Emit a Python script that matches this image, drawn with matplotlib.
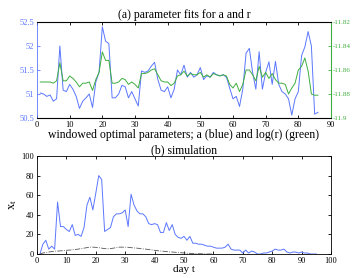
import numpy as np
import matplotlib
matplotlib.use("Agg")
import matplotlib.pyplot as plt

plt.rcParams['font.family'] = ['Liberation Serif', 'DejaVu Serif']
plt.rcParams['mathtext.fontset'] = 'custom'
plt.rcParams['mathtext.rm'] = 'Liberation Serif'
plt.rcParams['mathtext.it'] = 'Liberation Serif'
plt.rcParams['axes.unicode_minus'] = False

# ---- (a) windowed fits ----
fit_days = np.arange(1, 87)
a_fit = [51.02, 51.00, 50.95, 50.98, 50.85, 50.90, 52.00, 51.08, 51.05, 51.20,
         51.10, 50.95, 50.70, 50.85, 50.92, 51.00, 50.72, 51.25, 51.45, 52.40,
         52.10, 52.05, 50.92, 50.92, 51.00, 51.18, 51.15, 50.92, 51.05, 50.90,
         50.75, 51.48, 51.45, 51.48, 51.58, 51.66, 51.30, 51.08, 51.05, 51.15,
         50.92, 51.10, 51.50, 51.40, 51.60, 51.35, 51.45, 51.35, 51.40, 51.55,
         51.30, 51.38, 51.35, 51.45, 51.40, 51.38, 51.40, 51.35, 51.12, 50.90,
         50.95, 50.74, 51.10, 51.85, 51.95, 51.45, 51.10, 51.88, 51.10, 51.45,
         51.67, 51.20, 51.68, 51.20, 51.05, 51.00, 50.90, 50.56, 50.90, 51.05,
         51.80, 51.98, 52.30, 52.00, 50.58, 50.62]
# log(r), right axis units
logr_fit = [-11.870, -11.870, -11.870, -11.870, -11.871, -11.869, -11.854, -11.869,
            -11.869, -11.865, -11.867, -11.870, -11.874, -11.871, -11.871, -11.870,
            -11.877, -11.868, -11.862, -11.845, -11.852, -11.852, -11.871, -11.871,
            -11.870, -11.867, -11.868, -11.872, -11.870, -11.872, -11.875, -11.863,
            -11.863, -11.862, -11.860, -11.859, -11.864, -11.869, -11.870, -11.870,
            -11.873, -11.871, -11.865, -11.864, -11.861, -11.865, -11.863, -11.864,
            -11.864, -11.862, -11.866, -11.864, -11.866, -11.863, -11.864, -11.865,
            -11.864, -11.865, -11.872, -11.875, -11.871, -11.878, -11.872, -11.860,
            -11.860, -11.864, -11.869, -11.857, -11.866, -11.862, -11.867, -11.863,
            -11.868, -11.871, -11.871, -11.872, -11.880, -11.875, -11.871, -11.860,
            -11.857, -11.850, -11.861, -11.880, -11.881, -11.881]

# ---- (b) simulation ----
sim_days = np.arange(1, 96)
x_sim = [0, 10, 14, 5, 8, 5, 53, 28, 28, 25, 23, 30, 19, 20, 18, 27, 50, 58, 45, 62,
         80, 76, 23, 25, 27, 38, 41, 41, 42, 45, 28, 61, 50, 44, 41, 41, 38, 31, 30, 31,
         30, 22, 22, 32, 24, 30, 20, 17, 16, 18, 14, 18, 11, 11, 10, 10, 9, 8, 8, 7,
         6, 6, 6, 7, 10, 5, 4, 4, 4, 1, 4, 1, 3, 2, 0, 0, 1, 1, 2, 3,
         5, 4, 4, 5, 2, 1, 2, 2, 1, 2, 1, 1, 0, 0, 0]
model_days = np.arange(1, 61)
x_model = [0, 1, 1.5, 2, 2.5, 3, 3, 3.2, 3.5, 3.8, 4, 4.3, 4.6, 5, 5.5, 6, 6.5, 7, 7, 6.8,
           6.5, 6, 5.5, 5.3, 5.5, 6, 6.5, 7, 7, 7, 6.8, 6.5, 6.2, 6, 5.6, 5.2, 5, 4.6, 4.2, 3.8,
           3.4, 3.1, 2.8, 2.5, 2.2, 2, 1.8, 1.5, 1.3, 1.1, 0.9, 0.7, 0.5, 0.4, 0.3, 0.2, 0.1, 0.05, 0, 0]

blue = '#5b77ff'
green = '#3fae3f'
tick_kw = dict(direction='in', labelsize=6, length=2.5, width=0.6, pad=2)

fig = plt.figure(figsize=(3.54, 2.78), dpi=100)

ax1 = fig.add_axes([0.1045, 0.5755, 0.8305, 0.3455])
ax1.plot(fit_days, a_fit, color=blue, lw=0.7)
ax1.set_xlim(0, 90)
ax1.set_ylim(50.5, 52.5)
ax1.set_xticks(np.arange(0, 91, 10))
ax1.set_yticks([50.5, 51, 51.5, 52, 52.5])
ax1.set_yticklabels(['50.5', '51', '51.5', '52', '52.5'])
ax1.tick_params(axis='x', top=True, **tick_kw)
ax1.tick_params(axis='y', colors=blue, **tick_kw)
ax1.spines['left'].set_color(blue)
for s in ax1.spines.values():
    s.set_linewidth(0.6)
ax1.set_title('(a) parameter fits for a and r', fontsize=8.5, pad=3)
ax1.set_xlabel('windowed optimal parameters; a (blue) and log(r) (green)', fontsize=8.5, labelpad=0)

ax1r = ax1.twinx()
ax1r.plot(fit_days, logr_fit, color=green, lw=0.7)
ax1r.set_ylim(-11.9, -11.82)
ax1r.set_yticks([-11.9, -11.88, -11.86, -11.84, -11.82])
ax1r.set_yticklabels(['-11.9', '-11.88', '-11.86', '-11.84', '-11.82'])
ax1r.tick_params(axis='y', colors=green, direction='in', labelsize=5, length=2.5, width=0.6, pad=1)
ax1r.spines['right'].set_color(green)
ax1r.spines['right'].set_linewidth(0.8)
ax1r.spines['left'].set_visible(False)

ax2 = fig.add_axes([0.1045, 0.0863, 0.8305, 0.3525])
ax2.plot(sim_days, x_sim, color=blue, lw=0.7)
ax2.plot(model_days, x_model, color='#555555', lw=0.6, ls='-.')
ax2.set_xlim(0, 100)
ax2.set_ylim(0, 100)
ax2.set_xticks(np.arange(0, 101, 10))
ax2.set_yticks(np.arange(0, 101, 20))
ax2.tick_params(axis='both', top=True, right=True, **tick_kw)
for s in ax2.spines.values():
    s.set_linewidth(0.6)
ax2.set_title('(b) simulation', fontsize=8.5, pad=2)
ax2.set_xlabel('day t', fontsize=8, labelpad=0)
ax2.set_ylabel(r'x$_{\rm t}$', fontsize=9, labelpad=2)

fig.savefig('out.png', dpi=100)
